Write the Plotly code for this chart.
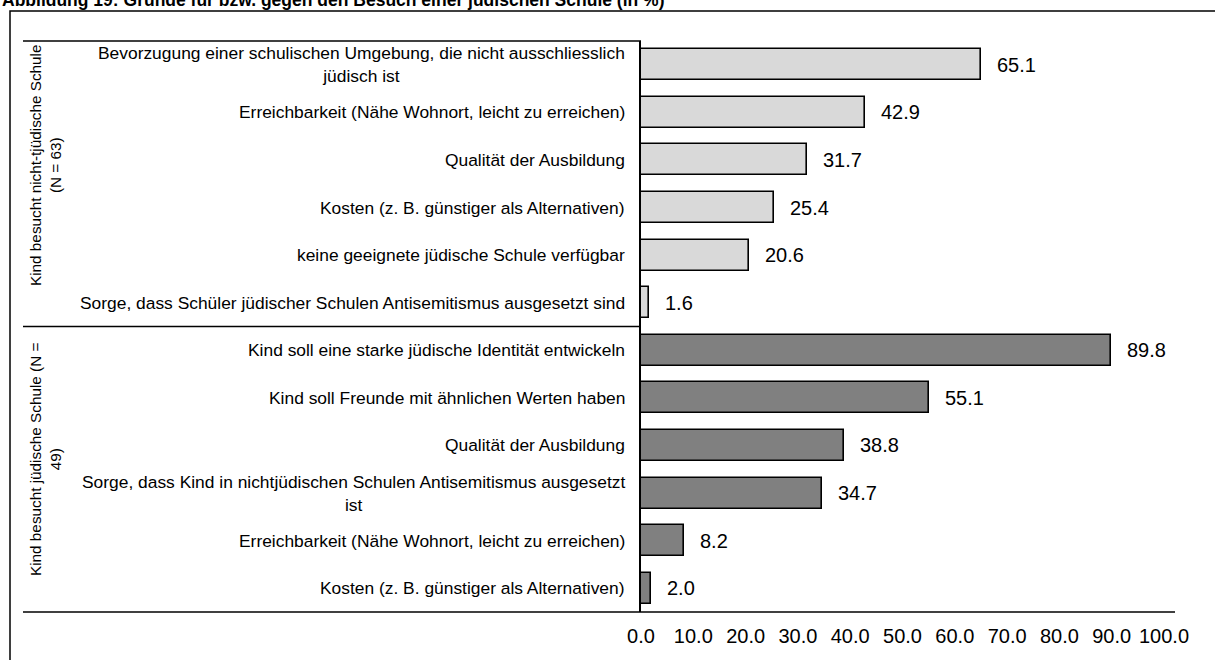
import plotly.graph_objects as go

title = "Abbildung 19: Gründe für bzw. gegen den Besuch einer jüdischen Schule (in %)"

group1_name = "Kind besucht nicht-tjüdische Schule<br>(N = 63)"
group1_labels = [
    "Bevorzugung einer schulischen Umgebung, die nicht ausschliesslich<br>jüdisch ist",
    "Erreichbarkeit (Nähe Wohnort, leicht zu erreichen)",
    "Qualität der Ausbildung",
    "Kosten (z. B. günstiger als Alternativen)",
    "keine geeignete jüdische Schule verfügbar",
    "Sorge, dass Schüler jüdischer Schulen Antisemitismus ausgesetzt sind",
]
group1_values = [65.1, 42.9, 31.7, 25.4, 20.6, 1.6]

group2_name = "Kind besucht jüdische Schule (N =<br>49)"
group2_labels = [
    "Kind soll eine starke jüdische Identität entwickeln",
    "Kind soll Freunde mit ähnlichen Werten haben",
    "Qualität der Ausbildung",
    "Sorge, dass Kind in nichtjüdischen Schulen Antisemitismus ausgesetzt<br>ist",
    "Erreichbarkeit (Nähe Wohnort, leicht zu erreichen)",
    "Kosten (z. B. günstiger als Alternativen)",
]
group2_values = [89.8, 55.1, 38.8, 34.7, 8.2, 2.0]

tick_values = [0, 10, 20, 30, 40, 50, 60, 70, 80, 90, 100]

W, H = 1215, 660
L, R, T, B = 641, 51, 41, 48
PW, PH = W - L - R, H - T - B


def px_x(px):
    return (px - L) / PW


def px_y(py):
    return (H - B - py) / PH


FONT = "Arial, Liberation Sans, sans-serif"

y1 = list(range(len(group1_values)))
y2 = list(range(len(group1_values), len(group1_values) + len(group2_values)))

fig = go.Figure()
fig.add_trace(go.Bar(
    x=group1_values, y=y1, orientation="h", width=0.65,
    marker=dict(color="#d9d9d9", line=dict(color="black", width=1.6)),
    showlegend=False, hoverinfo="skip",
))
fig.add_trace(go.Bar(
    x=group2_values, y=y2, orientation="h", width=0.65,
    marker=dict(color="#808080", line=dict(color="black", width=1.6)),
    showlegend=False, hoverinfo="skip",
))

annotations = []
for yy, lab, v in list(zip(y1, group1_labels, group1_values)) + list(zip(y2, group2_labels, group2_values)):
    annotations.append(dict(
        x=px_x(627), xref="paper", y=yy, yref="y", text=lab, showarrow=False,
        xanchor="right", yanchor="middle", align="center",
        font=dict(family=FONT, size=17.4, color="black"),
    ))
    annotations.append(dict(
        x=v, xref="x", y=yy, yref="y", text=f"{v:.1f}", showarrow=False,
        xanchor="left", yanchor="middle", xshift=14,
        font=dict(family=FONT, size=20, color="black"),
    ))

annotations.append(dict(
    x=px_x(45), xref="paper", y=px_y(165), yref="paper", text=group1_name,
    showarrow=False, textangle=-90, xanchor="center", yanchor="middle", align="center",
    font=dict(family=FONT, size=15.3, color="black"),
))
annotations.append(dict(
    x=px_x(45), xref="paper", y=px_y(460), yref="paper", text=group2_name,
    showarrow=False, textangle=-90, xanchor="center", yanchor="middle", align="center",
    font=dict(family=FONT, size=15.3, color="black"),
))
annotations.append(dict(
    x=px_x(0), xref="paper", y=px_y(12), yref="paper", text=f"<b>{title}</b>",
    showarrow=False, xanchor="left", yanchor="bottom",
    font=dict(family=FONT, size=17.5, color="black"),
))

shapes = [
    # outer frame
    dict(type="rect", xref="paper", yref="paper", x0=px_x(10), x1=px_x(1260),
         y0=px_y(690), y1=px_y(11), line=dict(color="black", width=1.5), layer="below"),
    # top line of category area
    dict(type="line", xref="paper", yref="paper", x0=px_x(23), x1=0, y0=1, y1=1,
         line=dict(color="black", width=1.5)),
    # group separator
    dict(type="line", xref="paper", yref="y", x0=px_x(23), x1=0,
         y0=len(group1_values) - 0.5, y1=len(group1_values) - 0.5,
         line=dict(color="black", width=1.5)),
    # bottom axis line
    dict(type="line", xref="paper", yref="paper", x0=px_x(23), x1=px_x(1175), y0=0, y1=0,
         line=dict(color="black", width=1.5)),
]

fig.update_layout(
    width=W, height=H,
    margin=dict(l=L, r=R, t=T, b=B, pad=0),
    paper_bgcolor="white", plot_bgcolor="white",
    bargap=0,
    annotations=annotations,
    shapes=shapes,
    xaxis=dict(
        range=[0, 100], tickvals=tick_values, tickformat=".1f",
        showgrid=False, zeroline=False, showline=False, ticks="",
        ticklabelstandoff=10,
        tickfont=dict(family=FONT, size=20, color="black"),
        fixedrange=True,
    ),
    yaxis=dict(
        range=[len(y1) + len(y2) - 0.5, -0.5],
        showticklabels=False, showgrid=False, zeroline=False,
        showline=True, linecolor="black", linewidth=1.5, ticks="",
        fixedrange=True,
    ),
)

fig.write_html(
    "out.html",
    config={"displayModeBar": False},
    post_script="document.body.style.margin='0';document.body.style.overflow='hidden';",
)
